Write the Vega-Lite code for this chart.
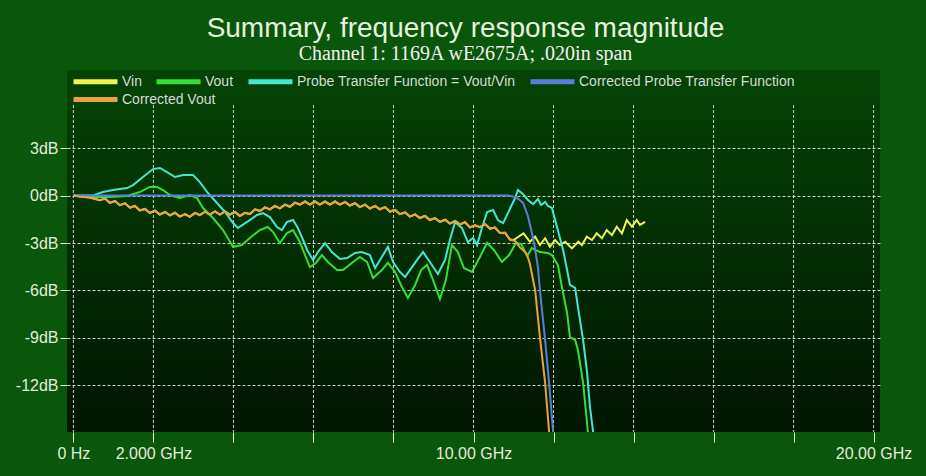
{
  "$schema": "https://vega.github.io/schema/vega-lite/v6.json",
  "width": 813,
  "height": 362,
  "autosize": {"type": "none"},
  "padding": {"left": 67, "top": 70, "right": 46, "bottom": 44},
  "background": "#0a560a",
  "title": {
    "text": "Summary, frequency response magnitude",
    "subtitle": "Channel 1: 1169A wE2675A; .020in span",
    "anchor": "middle",
    "dx": -8,
    "offset": 6,
    "font": "Liberation Sans",
    "fontSize": 28,
    "fontWeight": "normal",
    "color": "#e6f2de",
    "subtitleFont": "Liberation Serif",
    "subtitleFontSize": 20,
    "subtitleColor": "#f2f2ee",
    "subtitlePadding": 1
  },
  "view": {
    "fill": {
      "gradient": "linear", "x1": 0, "y1": 0, "x2": 0, "y2": 1,
      "stops": [{"offset": 0, "color": "#044404"}, {"offset": 1, "color": "#011601"}]
    },
    "stroke": null
  },
  "config": {
    "axis": {
      "labelFont": "Liberation Sans",
      "labelFontSize": 16,
      "labelColor": "#e4ecdc",
      "tickColor": "#e4ecdc",
      "domain": false,
      "title": null
    },
    "legend": {
      "title": null,
      "orient": "top-left",
      "offset": 4,
      "padding": 0,
      "direction": "horizontal",
      "symbolType": "M-1,0H7.8",
      "symbolSize": 100,
      "symbolStrokeWidth": 5,
      "symbolOpacity": 1,
      "labelOffset": 36,
      "labelFont": "Liberation Sans",
      "labelFontSize": 14,
      "labelColor": "#d4dcd4",
      "labelLimit": 400,
      "columnPadding": 4,
      "rowPadding": 4,
      "layout": {"top-left": {"direction": "vertical", "margin": 0}}
    }
  },
  "datasets": {
    "names": [
      {"k": "Vin", "name": "Vin"},
      {"k": "Vout", "name": "Vout"},
      {"k": "PTF", "name": "Probe Transfer Function = Vout/Vin"},
      {"k": "CPTF", "name": "Corrected Probe Transfer Function"},
      {"k": "CVout", "name": "Corrected Vout"}
    ],
    "curves": [
      {"f": 0, "Vin": 0, "Vout": 0, "PTF": 0, "CPTF": 0, "CVout": 0},
      {"f": 0.16, "Vin": -0.07, "CVout": -0.07},
      {"f": 0.41, "Vin": -0.12, "CVout": -0.12},
      {"f": 0.66, "Vin": -0.3, "CVout": -0.3},
      {"f": 0.79, "Vin": -0.19, "CVout": -0.19},
      {"f": 0.91, "Vin": -0.46, "CVout": -0.46},
      {"f": 1.04, "Vin": -0.35, "CVout": -0.35},
      {"f": 1.16, "Vin": -0.61, "CVout": -0.61},
      {"f": 1.29, "Vin": -0.49, "CVout": -0.49},
      {"f": 1.41, "Vin": -0.76, "CVout": -0.76},
      {"f": 1.54, "Vin": -0.66, "CVout": -0.66},
      {"f": 1.66, "Vin": -0.94, "CVout": -0.94},
      {"f": 1.79, "Vin": -0.85, "CVout": -0.85},
      {"f": 1.91, "Vin": -1.1, "CVout": -1.1},
      {"f": 2.04, "Vin": -0.96, "CVout": -0.96},
      {"f": 2.16, "Vin": -1.2, "CVout": -1.2},
      {"f": 2.29, "Vin": -1.04, "CVout": -1.04},
      {"f": 2.41, "Vin": -1.25, "CVout": -1.25},
      {"f": 2.54, "Vin": -1.09, "CVout": -1.09},
      {"f": 2.66, "Vin": -1.33, "CVout": -1.33},
      {"f": 2.79, "Vin": -1.18, "CVout": -1.18},
      {"f": 2.91, "Vin": -1.35, "CVout": -1.35},
      {"f": 3.04, "Vin": -1.1, "CVout": -1.1},
      {"f": 3.16, "Vin": -1.24, "CVout": -1.24},
      {"f": 3.29, "Vin": -1.02, "CVout": -1.02},
      {"f": 3.41, "Vin": -1.2, "CVout": -1.2},
      {"f": 3.54, "Vin": -1.01, "CVout": -1.01},
      {"f": 3.66, "Vin": -1.2, "CVout": -1.2},
      {"f": 3.79, "Vin": -1.01, "CVout": -1.01},
      {"f": 3.91, "Vin": -1.2, "CVout": -1.2},
      {"f": 4.04, "Vin": -1.04, "CVout": -1.04},
      {"f": 4.16, "Vin": -1.29, "CVout": -1.29},
      {"f": 4.29, "Vin": -1.09, "CVout": -1.09},
      {"f": 4.41, "Vin": -1.17, "CVout": -1.17},
      {"f": 4.54, "Vin": -0.87, "CVout": -0.87},
      {"f": 4.66, "Vin": -0.98, "CVout": -0.98},
      {"f": 4.79, "Vin": -0.75, "CVout": -0.75},
      {"f": 4.91, "Vin": -0.88, "CVout": -0.88},
      {"f": 5.04, "Vin": -0.66, "CVout": -0.66},
      {"f": 5.16, "Vin": -0.81, "CVout": -0.81},
      {"f": 5.29, "Vin": -0.58, "CVout": -0.58},
      {"f": 5.41, "Vin": -0.71, "CVout": -0.71},
      {"f": 5.54, "Vin": -0.45, "CVout": -0.45},
      {"f": 5.66, "Vin": -0.57, "CVout": -0.57},
      {"f": 5.79, "Vin": -0.38, "CVout": -0.38},
      {"f": 5.91, "Vin": -0.57, "CVout": -0.57},
      {"f": 6.04, "Vin": -0.38, "CVout": -0.38},
      {"f": 6.16, "Vin": -0.57, "CVout": -0.57},
      {"f": 6.29, "Vin": -0.38, "CVout": -0.38},
      {"f": 6.41, "Vin": -0.57, "CVout": -0.57},
      {"f": 6.54, "Vin": -0.38, "CVout": -0.38},
      {"f": 6.66, "Vin": -0.57, "CVout": -0.57},
      {"f": 6.79, "Vin": -0.4, "CVout": -0.4},
      {"f": 6.91, "Vin": -0.63, "CVout": -0.63},
      {"f": 7.04, "Vin": -0.49, "CVout": -0.49},
      {"f": 7.16, "Vin": -0.73, "CVout": -0.73},
      {"f": 7.29, "Vin": -0.58, "CVout": -0.58},
      {"f": 7.41, "Vin": -0.82, "CVout": -0.82},
      {"f": 7.54, "Vin": -0.66, "CVout": -0.66},
      {"f": 7.66, "Vin": -0.87, "CVout": -0.87},
      {"f": 7.79, "Vin": -0.73, "CVout": -0.73},
      {"f": 7.91, "Vin": -1.01, "CVout": -1.01},
      {"f": 8.04, "Vin": -0.91, "CVout": -0.91},
      {"f": 8.16, "Vin": -1.18, "CVout": -1.18},
      {"f": 8.29, "Vin": -1.06, "CVout": -1.06},
      {"f": 8.41, "Vin": -1.33, "CVout": -1.33},
      {"f": 8.54, "Vin": -1.19, "CVout": -1.19},
      {"f": 8.66, "Vin": -1.42, "CVout": -1.42},
      {"f": 8.79, "Vin": -1.29, "CVout": -1.29},
      {"f": 8.91, "Vin": -1.55, "CVout": -1.55},
      {"f": 9.04, "Vin": -1.43, "CVout": -1.43},
      {"f": 9.16, "Vin": -1.67, "CVout": -1.67},
      {"f": 9.29, "Vin": -1.53, "CVout": -1.53},
      {"f": 9.41, "Vin": -1.77, "CVout": -1.77},
      {"f": 9.54, "Vin": -1.6, "CVout": -1.6},
      {"f": 9.66, "Vin": -1.82, "CVout": -1.82},
      {"f": 9.79, "Vin": -1.69, "CVout": -1.69},
      {"f": 9.91, "Vin": -2.01, "CVout": -2.01},
      {"f": 10.04, "Vin": -1.88, "CVout": -1.88},
      {"f": 10.16, "Vin": -2.0, "CVout": -2.0},
      {"f": 10.29, "Vin": -1.81, "CVout": -1.81},
      {"f": 10.41, "Vin": -2.09, "CVout": -2.09},
      {"f": 10.54, "Vin": -2.02, "CVout": -2.02},
      {"f": 10.66, "Vin": -2.37, "CVout": -2.37},
      {"f": 10.79, "Vin": -2.36, "CVout": -2.36},
      {"f": 10.91, "Vin": -2.78, "CVout": -2.78},
      {"f": 11.04, "CVout": -2.87},
      {"f": 11.16, "CVout": -3.28},
      {"f": 11.29, "CVout": -3.57},
      {"f": 11.34, "CVout": -3.76},
      {"f": 11.41, "CVout": -4.33},
      {"f": 11.54, "CVout": -5.97},
      {"f": 11.66, "CVout": -8.94},
      {"f": 11.79, "CVout": -11.84},
      {"f": 11.89, "CVout": -14.94},
      {"f": 11.91, "CVout": -15.76},
      {"f": 11.0, "Vin": -2.81},
      {"f": 11.25, "Vin": -2.39},
      {"f": 11.41, "Vin": -2.92},
      {"f": 11.54, "Vin": -2.6},
      {"f": 11.66, "Vin": -3.13},
      {"f": 11.79, "Vin": -2.7},
      {"f": 11.91, "Vin": -3.23},
      {"f": 12.04, "Vin": -2.81},
      {"f": 12.16, "Vin": -3.13},
      {"f": 12.29, "Vin": -2.92},
      {"f": 12.46, "Vin": -3.34},
      {"f": 12.62, "Vin": -2.92},
      {"f": 12.71, "Vin": -3.13},
      {"f": 12.83, "Vin": -2.6},
      {"f": 12.96, "Vin": -2.81},
      {"f": 13.08, "Vin": -2.39},
      {"f": 13.21, "Vin": -2.7},
      {"f": 13.33, "Vin": -2.18},
      {"f": 13.46, "Vin": -2.5},
      {"f": 13.58, "Vin": -1.97},
      {"f": 13.71, "Vin": -2.39},
      {"f": 13.83, "Vin": -1.55},
      {"f": 13.96, "Vin": -1.97},
      {"f": 14.08, "Vin": -1.55},
      {"f": 14.16, "Vin": -1.86},
      {"f": 14.29, "Vin": -1.66},
      {"f": 0.41, "Vout": -0.09},
      {"f": 0.91, "Vout": -0.09},
      {"f": 1.34, "Vout": -0.03},
      {"f": 1.66, "Vout": 0.22},
      {"f": 1.91, "Vout": 0.54},
      {"f": 2.09, "Vout": 0.54},
      {"f": 2.24, "Vout": 0.35},
      {"f": 2.41, "Vout": 0.03},
      {"f": 2.66, "Vout": -0.16},
      {"f": 2.91, "Vout": 0.03},
      {"f": 3.09, "Vout": -0.16},
      {"f": 3.24, "Vout": -0.79},
      {"f": 3.49, "Vout": -1.42},
      {"f": 3.74, "Vout": -2.18},
      {"f": 3.99, "Vout": -3.25},
      {"f": 4.21, "Vout": -3.13},
      {"f": 4.41, "Vout": -2.68},
      {"f": 4.66, "Vout": -2.18},
      {"f": 4.86, "Vout": -1.99},
      {"f": 4.99, "Vout": -2.31},
      {"f": 5.16, "Vout": -3.0},
      {"f": 5.34, "Vout": -2.37},
      {"f": 5.49, "Vout": -2.18},
      {"f": 5.66, "Vout": -2.94},
      {"f": 5.79, "Vout": -3.76},
      {"f": 5.91, "Vout": -4.52},
      {"f": 6.06, "Vout": -4.26},
      {"f": 6.21, "Vout": -3.76},
      {"f": 6.36, "Vout": -4.2},
      {"f": 6.59, "Vout": -4.71},
      {"f": 6.74, "Vout": -4.71},
      {"f": 6.99, "Vout": -4.2},
      {"f": 7.16, "Vout": -3.88},
      {"f": 7.34, "Vout": -4.2},
      {"f": 7.49, "Vout": -5.21},
      {"f": 7.71, "Vout": -4.71},
      {"f": 7.86, "Vout": -4.26},
      {"f": 8.04, "Vout": -4.83},
      {"f": 8.21, "Vout": -5.78},
      {"f": 8.36, "Vout": -6.47},
      {"f": 8.54, "Vout": -5.65},
      {"f": 8.69, "Vout": -4.71},
      {"f": 8.84, "Vout": -4.39},
      {"f": 8.99, "Vout": -5.34},
      {"f": 9.16, "Vout": -6.54},
      {"f": 9.31, "Vout": -5.34},
      {"f": 9.46, "Vout": -3.13},
      {"f": 9.61, "Vout": -3.57},
      {"f": 9.76, "Vout": -4.58},
      {"f": 9.96, "Vout": -4.83},
      {"f": 10.16, "Vout": -3.88},
      {"f": 10.34, "Vout": -3.0},
      {"f": 10.51, "Vout": -3.44},
      {"f": 10.71, "Vout": -4.2},
      {"f": 10.89, "Vout": -3.76},
      {"f": 11.06, "Vout": -3.0},
      {"f": 11.19, "Vout": -3.06},
      {"f": 11.34, "Vout": -3.82},
      {"f": 11.46, "Vout": -3.32},
      {"f": 11.66, "Vout": -3.57},
      {"f": 11.86, "Vout": -3.63},
      {"f": 11.96, "Vout": -3.76},
      {"f": 12.11, "Vout": -4.39},
      {"f": 12.21, "Vout": -5.78},
      {"f": 12.34, "Vout": -7.42},
      {"f": 12.41, "Vout": -8.94},
      {"f": 12.54, "Vout": -9.13},
      {"f": 12.61, "Vout": -9.76},
      {"f": 12.74, "Vout": -11.84},
      {"f": 12.86, "Vout": -14.94},
      {"f": 12.91, "Vout": -15.76},
      {"f": 0.49, "PTF": 0},
      {"f": 0.74, "PTF": 0.22},
      {"f": 0.99, "PTF": 0.35},
      {"f": 1.34, "PTF": 0.47},
      {"f": 1.49, "PTF": 0.66},
      {"f": 1.74, "PTF": 1.17},
      {"f": 1.99, "PTF": 1.67},
      {"f": 2.16, "PTF": 1.74},
      {"f": 2.34, "PTF": 1.48},
      {"f": 2.54, "PTF": 1.17},
      {"f": 2.74, "PTF": 1.29},
      {"f": 2.99, "PTF": 1.29},
      {"f": 3.16, "PTF": 0.85},
      {"f": 3.36, "PTF": 0.16},
      {"f": 3.59, "PTF": -0.47},
      {"f": 3.79, "PTF": -1.04},
      {"f": 3.99, "PTF": -1.74},
      {"f": 4.11, "PTF": -2.05},
      {"f": 4.34, "PTF": -1.67},
      {"f": 4.59, "PTF": -1.23},
      {"f": 4.74, "PTF": -1.11},
      {"f": 4.91, "PTF": -1.36},
      {"f": 5.09, "PTF": -1.99},
      {"f": 5.21, "PTF": -2.18},
      {"f": 5.34, "PTF": -1.67},
      {"f": 5.49, "PTF": -1.55},
      {"f": 5.61, "PTF": -2.05},
      {"f": 5.74, "PTF": -2.81},
      {"f": 5.84, "PTF": -3.44},
      {"f": 5.99, "PTF": -4.07},
      {"f": 6.11, "PTF": -3.57},
      {"f": 6.29, "PTF": -3.0},
      {"f": 6.46, "PTF": -3.57},
      {"f": 6.66, "PTF": -4.01},
      {"f": 6.84, "PTF": -3.95},
      {"f": 7.04, "PTF": -3.63},
      {"f": 7.21, "PTF": -3.57},
      {"f": 7.41, "PTF": -3.76},
      {"f": 7.54, "PTF": -4.58},
      {"f": 7.71, "PTF": -3.88},
      {"f": 7.86, "PTF": -3.25},
      {"f": 7.99, "PTF": -4.2},
      {"f": 8.16, "PTF": -4.83},
      {"f": 8.29, "PTF": -5.15},
      {"f": 8.41, "PTF": -4.71},
      {"f": 8.59, "PTF": -4.07},
      {"f": 8.74, "PTF": -3.57},
      {"f": 8.91, "PTF": -4.2},
      {"f": 9.11, "PTF": -4.96},
      {"f": 9.29, "PTF": -4.07},
      {"f": 9.41, "PTF": -2.81},
      {"f": 9.54, "PTF": -1.67},
      {"f": 9.71, "PTF": -2.05},
      {"f": 9.86, "PTF": -2.94},
      {"f": 9.99, "PTF": -2.68},
      {"f": 10.09, "PTF": -3.13},
      {"f": 10.21, "PTF": -2.05},
      {"f": 10.34, "PTF": -1.04},
      {"f": 10.49, "PTF": -0.92},
      {"f": 10.61, "PTF": -1.55},
      {"f": 10.74, "PTF": -1.74},
      {"f": 10.86, "PTF": -1.11},
      {"f": 11.04, "PTF": -0.16},
      {"f": 11.11, "PTF": 0.35},
      {"f": 11.24, "PTF": 0.09},
      {"f": 11.36, "PTF": -0.28},
      {"f": 11.49, "PTF": -0.54},
      {"f": 11.61, "PTF": -0.22},
      {"f": 11.69, "PTF": -0.6},
      {"f": 11.79, "PTF": -0.41},
      {"f": 11.86, "PTF": -0.66},
      {"f": 11.96, "PTF": -0.79},
      {"f": 12.04, "PTF": -1.55},
      {"f": 12.16, "PTF": -2.68},
      {"f": 12.24, "PTF": -3.44},
      {"f": 12.34, "PTF": -4.71},
      {"f": 12.41, "PTF": -5.65},
      {"f": 12.54, "PTF": -5.84},
      {"f": 12.61, "PTF": -7.04},
      {"f": 12.74, "PTF": -9.13},
      {"f": 12.84, "PTF": -11.21},
      {"f": 12.91, "PTF": -13.36},
      {"f": 12.99, "PTF": -14.94},
      {"f": 13.04, "PTF": -15.76},
      {"f": 10.86, "CPTF": 0},
      {"f": 10.99, "CPTF": -0.06},
      {"f": 11.11, "CPTF": -0.19},
      {"f": 11.24, "CPTF": -0.47},
      {"f": 11.36, "CPTF": -1.29},
      {"f": 11.46, "CPTF": -2.37},
      {"f": 11.54, "CPTF": -3.38},
      {"f": 11.61, "CPTF": -4.52},
      {"f": 11.66, "CPTF": -5.97},
      {"f": 11.79, "CPTF": -9.13},
      {"f": 11.89, "CPTF": -11.84},
      {"f": 11.99, "CPTF": -14.94},
      {"f": 12.01, "CPTF": -15.76}
    ]
  },
  "resolve": {"scale": {"color": "independent"}},
  "layer": [
    {
      "data": {"values": [
        {"g": 0}, {"g": 2}, {"g": 4}, {"g": 6}, {"g": 8}, {"g": 10},
        {"g": 12}, {"g": 14}, {"g": 16}, {"g": 18}, {"g": 20}
      ]},
      "mark": {"type": "rule", "color": "#f0f0f0", "strokeDash": [3, 2], "strokeWidth": 1, "opacity": 0.85},
      "encoding": {
        "x": {"field": "g", "type": "quantitative", "scale": {"domain": [-0.16, 20.16], "nice": false, "zero": false}},
        "y": {"datum": 5.72, "type": "quantitative", "scale": {"domain": [-14.94, 7.93], "nice": false, "zero": false}},
        "y2": {"datum": -14.94}
      }
    },
    {
      "data": {"name": "curves"},
      "transform": [
        {"fold": ["Vin", "Vout", "PTF", "CPTF"], "as": ["k", "v"]},
        {"filter": "isValid(datum.v)"},
        {"lookup": "k", "from": {"data": {"name": "names"}, "key": "k", "fields": ["name"]}}
      ],
      "mark": {"type": "line", "strokeWidth": 2, "clip": true},
      "encoding": {
        "x": {
          "field": "f", "type": "quantitative",
          "scale": {"domain": [-0.16, 20.16], "nice": false, "zero": false},
          "axis": {
            "values": [0, 2, 4, 6, 8, 10, 12, 14, 16, 18, 20],
            "grid": false,
            "labelExpr": "datum.value == 0 ? '0 Hz' : datum.value == 2 ? '2.000 GHz' : datum.value == 10 ? '10.00 GHz' : datum.value == 20 ? '20.00 GHz' : ''",
            "labelFlush": false,
            "labelOverlap": false,
            "labelBound": false,
            "tickSize": 10,
            "labelPadding": 3,
            "title": null
          }
        },
        "y": {
          "field": "v", "type": "quantitative",
          "scale": {"domain": [-14.94, 7.93], "nice": false, "zero": false},
          "axis": {
            "values": [3, 0, -3, -6, -9, -12],
            "grid": true,
            "gridColor": "#f0f0f0",
            "gridDash": [3, 2],
            "gridOpacity": 0.85,
            "labelExpr": "datum.value + 'dB'",
            "tickSize": 7,
            "labelPadding": 2,
            "title": null
          }
        },
        "color": {
          "field": "name", "type": "nominal",
          "scale": {
            "domain": ["Vin", "Vout", "Probe Transfer Function = Vout/Vin", "Corrected Probe Transfer Function"],
            "range": ["#f2f24c", "#34e034", "#44e6d6", "#5c7cdc"]
          },
          "legend": {"orient": "top-left"}
        }
      }
    },
    {
      "data": {"name": "curves"},
      "transform": [
        {"fold": ["CVout"], "as": ["k", "v"]},
        {"filter": "isValid(datum.v)"},
        {"lookup": "k", "from": {"data": {"name": "names"}, "key": "k", "fields": ["name"]}}
      ],
      "mark": {"type": "line", "strokeWidth": 2, "clip": true},
      "encoding": {
        "x": {"field": "f", "type": "quantitative", "scale": {"domain": [-0.16, 20.16], "nice": false, "zero": false}},
        "y": {"field": "v", "type": "quantitative", "scale": {"domain": [-14.94, 7.93], "nice": false, "zero": false}},
        "color": {
          "field": "name", "type": "nominal",
          "scale": {"domain": ["Corrected Vout"], "range": ["#eca040"]},
          "legend": {"orient": "top-left"}
        }
      }
    }
  ]
}
